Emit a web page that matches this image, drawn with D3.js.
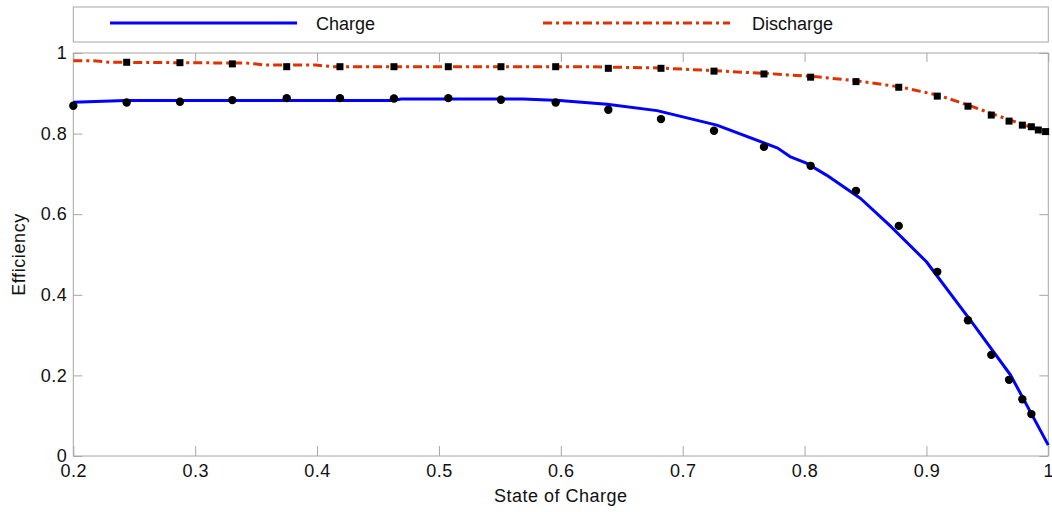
<!DOCTYPE html>
<html><head><meta charset="utf-8">
<script src="https://cdn.jsdelivr.net/npm/d3@7"></script>
<style>body{margin:0;background:#fff}svg{display:block}text{font-family:"Liberation Sans",Arial,sans-serif}</style>
</head><body>
<svg id="c" width="1052" height="512"></svg>
<script>
// ---- data ----
const xTicks = [0.2,0.3,0.4,0.5,0.6,0.7,0.8,0.9,1];
const yTicks = [0,0.2,0.4,0.6,0.8,1];
const xTickLabels = ["0.2","0.3","0.4","0.5","0.6","0.7","0.8","0.9","1"];
const yTickLabels = ["0","0.2","0.4","0.6","0.8","1"];
const seriesNames = ["Charge","Discharge"];

// model curves (lines)
const chargeLineSoc = [0.2,0.243,0.462,0.469,0.569,0.599,0.638,0.679,0.728,0.778,0.788,0.802,0.818,0.846,0.871,0.900,0.938,0.969,1.0];
const chargeLineEff = [0.878,0.882,0.882,0.886,0.886,0.882,0.873,0.857,0.821,0.764,0.743,0.726,0.697,0.639,0.569,0.482,0.329,0.201,0.027];
const dischargeLineSoc = [0.2,0.215,0.23,0.342,0.358,0.399,0.413,0.62,0.68,0.72,0.77,0.81,0.845,0.88,0.91,0.935,0.955,0.97,0.98,0.99,1.0];
const dischargeLineEff = [0.981,0.981,0.977,0.975,0.970,0.970,0.966,0.966,0.963,0.957,0.949,0.941,0.930,0.915,0.895,0.870,0.848,0.832,0.822,0.812,0.806];

// measured points (markers)
const chargePtSoc = [0.200,0.2438,0.2875,0.3305,0.3751,0.4188,0.4631,0.5077,0.5509,0.5958,0.6390,0.6822,0.7257,0.7667,0.8050,0.8422,0.8773,0.9089,0.9341,0.9532,0.9678,0.9787,0.9861];
const chargePtEff = [0.869,0.877,0.879,0.883,0.888,0.888,0.887,0.888,0.884,0.877,0.859,0.836,0.807,0.767,0.720,0.658,0.571,0.457,0.337,0.251,0.189,0.141,0.104];
const dischargePtSoc = [0.2438,0.2875,0.3305,0.3751,0.4188,0.4631,0.5077,0.5509,0.5958,0.6390,0.6822,0.7257,0.7667,0.8050,0.8422,0.8773,0.9089,0.9341,0.9532,0.9678,0.9787,0.9861,0.9918,0.9978];
const dischargePtEff = [0.977,0.976,0.973,0.966,0.966,0.966,0.966,0.966,0.966,0.962,0.962,0.955,0.948,0.940,0.929,0.915,0.893,0.868,0.846,0.831,0.821,0.817,0.809,0.805];

// ---- layout ----
const L = 73.3, R = 1048.3, T = 53, B = 456;
const svg = d3.select("#c");
const x = d3.scaleLinear().domain([0.2,1]).range([L,R]);
const y = d3.scaleLinear().domain([0,1]).range([B,T]);
const grey = "#a6a6a6";
const fs = "18px";

// legend box
const lg = svg.append("g");
lg.append("rect").attr("x",L).attr("y",7).attr("width",R-L).attr("height",35)
  .attr("fill","#fff").attr("stroke",grey).attr("stroke-width",1);
lg.append("line").attr("x1",110).attr("x2",297).attr("y1",23).attr("y2",23)
  .attr("stroke","#0000ff").attr("stroke-width",3);
lg.append("text").attr("x",316).attr("y",29.5).attr("font-size",fs).attr("fill","#111").text(seriesNames[0]);
lg.append("line").attr("x1",543).attr("x2",730).attr("y1",23).attr("y2",23)
  .attr("stroke","#dd3300").attr("stroke-width",3).attr("stroke-dasharray","9,4,3,4");
lg.append("text").attr("x",752).attr("y",29.5).attr("font-size",fs).attr("fill","#111").text(seriesNames[1]);

// frame
svg.append("rect").attr("x",L).attr("y",T).attr("width",R-L).attr("height",B-T)
  .attr("fill","none").attr("stroke",grey).attr("stroke-width",1);

function styleAxis(g, showLabels){
  g.select(".domain").remove();
  g.selectAll(".tick line").attr("stroke",grey);
  g.selectAll(".tick text").attr("font-size",fs).attr("fill","#111")
    .attr("font-family","Liberation Sans, Arial, sans-serif").attr("letter-spacing","0.5px");
  if(!showLabels) g.selectAll(".tick text").remove();
}
svg.append("g").attr("transform",`translate(0,${B})`)
  .call(d3.axisBottom(x).tickValues(xTicks).tickFormat((d,i)=>xTickLabels[i]).tickSize(-10).tickPadding(8))
  .call(g=>styleAxis(g,true));
svg.append("g").attr("transform",`translate(0,${T})`)
  .call(d3.axisTop(x).tickValues(xTicks).tickSize(-9))
  .call(g=>styleAxis(g,false));
svg.append("g").attr("transform",`translate(${L},0)`)
  .call(d3.axisLeft(y).tickValues(yTicks).tickFormat((d,i)=>yTickLabels[i]).tickSize(-9).tickPadding(6))
  .call(g=>styleAxis(g,true));
svg.append("g").attr("transform",`translate(${R},0)`)
  .call(d3.axisRight(y).tickValues(yTicks).tickSize(-9))
  .call(g=>styleAxis(g,false));

// axis titles
svg.append("text").attr("x",(L+R)/2).attr("y",502).attr("text-anchor","middle")
  .attr("font-size",fs).attr("letter-spacing","0.5px").attr("fill","#111").text("State of Charge");
svg.append("text").attr("transform",`translate(25,${(T+B)/2}) rotate(-90)`).attr("text-anchor","middle")
  .attr("font-size",fs).attr("letter-spacing","0.6px").attr("fill","#111").text("Efficiency");

// lines
const line = d3.line().x(d=>x(d[0])).y(d=>y(d[1]));
svg.append("path").datum(d3.zip(chargeLineSoc,chargeLineEff)).attr("d",line)
  .attr("fill","none").attr("stroke","#0000ff").attr("stroke-width",3).attr("stroke-linejoin","round");
svg.append("path").datum(d3.zip(dischargeLineSoc,dischargeLineEff)).attr("d",line)
  .attr("fill","none").attr("stroke","#dd3300").attr("stroke-width",3).attr("stroke-dasharray","9,4,3,4");

// markers
svg.append("g").selectAll("circle").data(d3.zip(chargePtSoc,chargePtEff)).join("circle")
  .attr("cx",d=>x(d[0])).attr("cy",d=>y(d[1])).attr("r",4.2).attr("fill","#000");
const s = 7;
svg.append("g").selectAll("rect").data(d3.zip(dischargePtSoc,dischargePtEff)).join("rect")
  .attr("x",d=>x(d[0])-s/2).attr("y",d=>y(d[1])-s/2).attr("width",s).attr("height",s).attr("fill","#000");
</script>
</body></html>
